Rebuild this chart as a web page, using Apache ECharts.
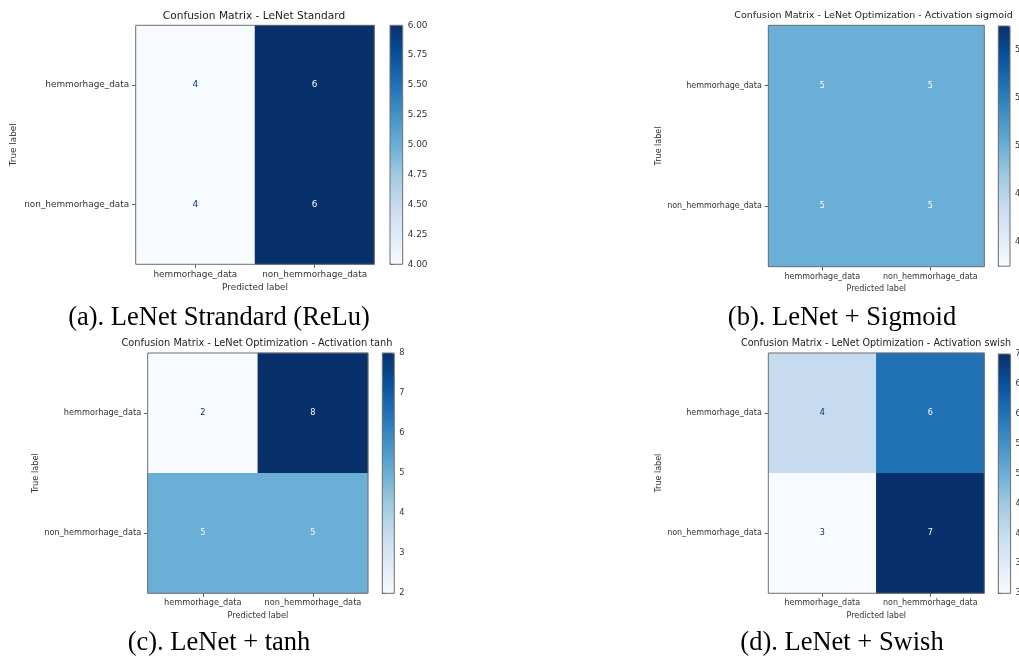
<!DOCTYPE html>
<html><head><meta charset="utf-8">
<script src="https://cdn.jsdelivr.net/npm/echarts@6/dist/echarts.min.js"></script>
<style>html,body{margin:0;padding:0;background:#fff}#c{width:1019px;height:656px}</style>
</head><body><div id="c"></div>
<script>
// ---- data ----
const labels = ['hemmorhage_data', 'non_hemmorhage_data'];
const reluMatrix = [[4, 6], [4, 6]];
const sigmoidMatrix = [[5, 5], [5, 5]];
const tanhMatrix = [[2, 8], [5, 5]];
const swishMatrix = [[4, 6], [3, 7]];
const reluTicks = [4.00, 4.25, 4.50, 4.75, 5.00, 5.25, 5.50, 5.75, 6.00];
const sigmoidTicks = [4.6, 4.8, 5.0, 5.2, 5.4];
const tanhTicks = [2, 3, 4, 5, 6, 7, 8];
const swishTicks = [3.0, 3.5, 4.0, 4.5, 5.0, 5.5, 6.0, 6.5, 7.0];
const chartTitles = [
  'Confusion Matrix - LeNet Standard',
  'Confusion Matrix - LeNet Optimization - Activation sigmoid',
  'Confusion Matrix - LeNet Optimization - Activation tanh',
  'Confusion Matrix - LeNet Optimization - Activation swish'
];
const captions = ['(a). LeNet Strandard (ReLu)', '(b). LeNet + Sigmoid', '(c). LeNet + tanh', '(d). LeNet + Swish'];
const xName = 'Predicted label';
const yName = 'True label';

// ---- style ----
const blues = ['#f7fbff','#deebf7','#c6dbef','#9ecae1','#6baed6','#4292c6','#2171b5','#08519c','#08306b'];
const matrices = [reluMatrix, sigmoidMatrix, tanhMatrix, swishMatrix];
const ticks = [reluTicks, sigmoidTicks, tanhTicks, swishTicks];
const decimals = [2, 1, 0, 1];
const layout = [
  {grid:{left:135.7, top:25.3, width:238.6, height:239}, cbar:{left:390, top:25.3, width:12.7, height:239}, fs:8.9, tfs:10.6, tx:254, ty:16, gapY:118, cx:219, cy:318},
  {grid:{left:768.3, top:25.3, width:216, height:241.4}, cbar:{left:998.3, top:26, width:11.7, height:240.2}, fs:8.0, tfs:9.5, tx:873.5, ty:16, gapY:105, cx:842, cy:318},
  {grid:{left:147.7, top:353, width:220.3, height:240.3}, cbar:{left:382.3, top:353, width:12, height:240.3}, fs:8.2, tfs:9.8, tx:257, ty:343, gapY:108, cx:219, cy:643},
  {grid:{left:768.3, top:353, width:216, height:240.3}, cbar:{left:998.3, top:354, width:12.3, height:239.3}, fs:8.0, tfs:9.6, tx:876, ty:343.3, gapY:105, cx:842, cy:643}
];
const FONT = 'DejaVu Sans';
const TXT = '#333';
const EDGE = '#6e6e6e';

const option = {animation:false, backgroundColor:'#fff', title:[], grid:[], xAxis:[], yAxis:[], visualMap:[], series:[]};

matrices.forEach((m, i) => {
  const L = layout[i];
  const flat = m.flat();
  let lo = Math.min(...flat), hi = Math.max(...flat);
  if (lo === hi) { lo = lo - 0.1 * Math.abs(lo); hi = hi + 0.1 * Math.abs(hi); }
  const thresh = (Math.min(...flat) + Math.max(...flat)) / 2;
  const gMain = i * 2, gBar = i * 2 + 1;

  option.title.push({text: chartTitles[i], left: L.tx, top: L.ty, textAlign:'center', textVerticalAlign:'middle', padding:0,
    textStyle:{fontFamily:FONT, fontWeight:'normal', fontSize:L.tfs, color:'#222'}});
  option.title.push({text: captions[i], left: L.cx, top: L.cy, textAlign:'center', textVerticalAlign:'middle', padding:0,
    textStyle:{fontFamily:'Liberation Serif', fontWeight:'normal', fontSize:26.5, color:'#000'}});

  const gridBase = {show:true, borderColor:EDGE, borderWidth:1, backgroundColor:'transparent', z:10, containLabel:false, outerBoundsMode:'none'};
  option.grid.push(Object.assign({}, gridBase, L.grid));
  option.grid.push(Object.assign({}, gridBase, L.cbar));

  option.xAxis.push({type:'category', gridIndex:gMain, data:labels, position:'bottom',
    name:xName, nameLocation:'middle', nameGap:18.5,
    nameTextStyle:{fontFamily:FONT, fontSize:L.fs, color:TXT},
    axisLine:{show:false}, splitLine:{show:false},
    axisTick:{show:true, alignWithLabel:true, length:3.5, interval:0, lineStyle:{color:'#555'}},
    axisLabel:{fontFamily:FONT, fontSize:L.fs, color:TXT, margin:6, interval:0, hideOverlap:false}});
  option.yAxis.push({type:'category', gridIndex:gMain, data:labels, inverse:true, position:'left',
    name:yName, nameLocation:'middle', nameGap:L.gapY,
    nameTextStyle:{fontFamily:FONT, fontSize:L.fs, color:TXT},
    axisLine:{show:false}, splitLine:{show:false},
    axisTick:{show:true, alignWithLabel:true, length:3.5, interval:0, lineStyle:{color:'#555'}},
    axisLabel:{fontFamily:FONT, fontSize:L.fs, color:TXT, margin:6.5, interval:0}});

  option.xAxis.push({type:'value', gridIndex:gBar, show:false, min:0, max:1});
  option.yAxis.push({type:'value', gridIndex:gBar, position:'right', min:lo, max:hi,
    axisLine:{show:true, lineStyle:{color:EDGE}}, splitLine:{show:false},
    axisTick:{show:true, length:3.5, lineStyle:{color:'#555'}, customValues:ticks[i]},
    axisLabel:{fontFamily:FONT, fontSize:L.fs, color:TXT, margin:5, customValues:ticks[i], hideOverlap:false,
      formatter: v => Number(v).toFixed(decimals[i])}});

  option.visualMap.push({type:'continuous', seriesIndex:i, min:lo, max:hi, calculable:false, hoverLink:false,
    orient:'vertical', left:L.cbar.left, top:L.cbar.top, itemWidth:L.cbar.width, itemHeight:L.cbar.height,
    padding:0, inRange:{color:blues}, z:4});

  const data = [];
  m.forEach((row, r) => row.forEach((v, c) => {
    data.push({value:[c, r, v], label:{color: v < thresh ? blues[8] : blues[0]}});
  }));
  option.series.push({type:'heatmap', xAxisIndex:i * 2, yAxisIndex:i * 2, data,
    label:{show:true, fontFamily:FONT, fontSize:L.fs, formatter: p => String(p.value[2])},
    emphasis:{disabled:true}, itemStyle:{borderWidth:0}});
});

const chart = echarts.init(document.getElementById('c'), null, {renderer:'canvas'});
chart.setOption(option);
</script></body></html>
